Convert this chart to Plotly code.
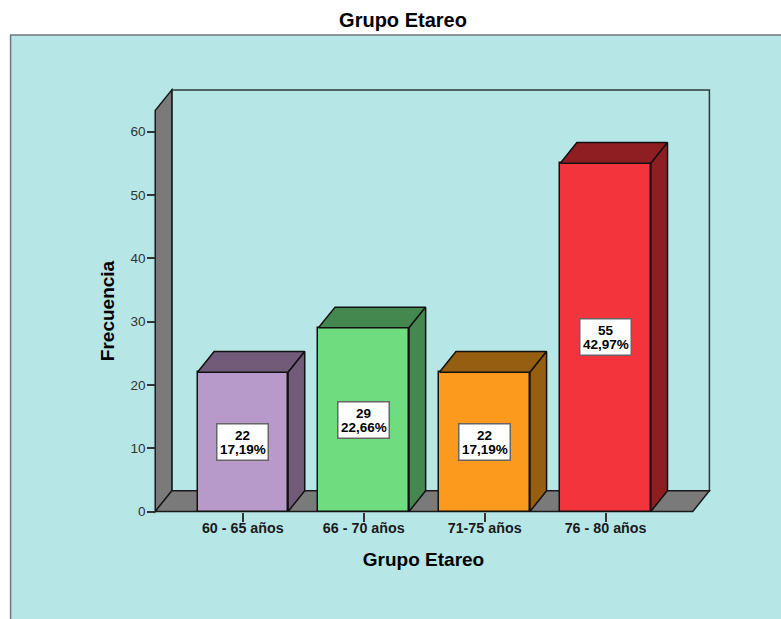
import plotly.graph_objects as go

categories = ["60 - 65 años", "66 - 70 años", "71-75 años", "76 - 80 años"]
values = [22, 29, 22, 55]
percents = ["17,19%", "22,66%", "17,19%", "42,97%"]
front_colors = ["#B89ACA", "#6FDC80", "#FB9A1C", "#F4343C"]
depth_colors = ["#715B78", "#44874F", "#965E10", "#8F1E22"]
y_ticks = [0, 10, 20, 30, 40, 50, 60]

W, H = 781, 619
L, R, T, B = 136.3, 710.7, 86, 536
X0_PX, X_UNIT = 243.0, 120.8
Y0_PX, Y_UNIT = 511.5, 6.3333
FONT = "Liberation Sans"
INK = "#1a1a1a"
PANEL = "#B6E6E6"
WALL = "#7A7A7A"

xr = [(L - X0_PX) / X_UNIT, (R - X0_PX) / X_UNIT]
yr = [(Y0_PX - B) / Y_UNIT, (Y0_PX - T) / Y_UNIT]
DX, DY = 16.6 / X_UNIT, 20.7 / Y_UNIT
BAR_W = 90.5 / X_UNIT
x_left, x_right = (155.5 - X0_PX) / X_UNIT, (692.5 - X0_PX) / X_UNIT
y_top = 63.3


def path(pts):
    return "M " + " L ".join(f"{a},{b}" for a, b in pts) + " Z"


fig = go.Figure()
xs = list(range(len(categories)))

# front faces
fig.add_trace(go.Bar(
    x=xs, y=values, width=BAR_W, marker=dict(color=front_colors, line=dict(color="#111", width=1.5)),
    hoverinfo="skip", showlegend=False,
))

# depth faces
for x, v, c in zip(xs, values, depth_colors):
    a, b = x - BAR_W / 2, x + BAR_W / 2
    top = [a, b, b + DX, a + DX, a]
    top_y = [v, v, v + DY, v + DY, v]
    side = [b, b + DX, b + DX, b, b]
    side_y = [0, DY, v + DY, v, 0]
    for px, py in ((top, top_y), (side, side_y)):
        fig.add_trace(go.Scatter(
            x=px, y=py, mode="lines", fill="toself", fillcolor=c,
            line=dict(color="#111", width=1.5), hoverinfo="skip", showlegend=False,
        ))

shapes = [
    # panel behind everything
    dict(type="rect", xref="paper", yref="paper", layer="below",
         x0=(11 - L) / (R - L), x1=(W + 10 - L) / (R - L),
         y0=(B - (H + 10)) / (B - T), y1=(B - 35) / (B - T),
         fillcolor=PANEL, line=dict(color="#6E7878", width=1.5)),
    # back wall
    dict(type="path", xref="x", yref="y", layer="below",
         path=path([(x_left + DX, DY), (x_right + DX, DY), (x_right + DX, y_top + DY), (x_left + DX, y_top + DY)]),
         fillcolor=PANEL, line=dict(color="#2c3a3a", width=1.5)),
    # left wall
    dict(type="path", xref="x", yref="y", layer="below",
         path=path([(x_left, 0), (x_left, y_top), (x_left + DX, y_top + DY), (x_left + DX, DY)]),
         fillcolor=WALL, line=dict(color="#1a1a1a", width=1.5)),
    # floor
    dict(type="path", xref="x", yref="y", layer="below",
         path=path([(x_left, 0), (x_right, 0), (x_right + DX, DY), (x_left + DX, DY)]),
         fillcolor=WALL, line=dict(color="#1a1a1a", width=1.5)),
]

label_font = dict(family=FONT, size=13.5, color="#000", weight="bold")
annotations = []
for x, v, p in zip(xs, values, percents):
    # white box
    annotations.append(dict(x=x, y=v / 2, xref="x", yref="y", text=" ", showarrow=False,
                            bgcolor="white", bordercolor="#666666", borderwidth=1.5, borderpad=0,
                            width=50, height=35))
    # two tightly spaced text lines
    annotations.append(dict(x=x, y=v / 2, xref="x", yref="y", text=str(v), showarrow=False,
                            font=label_font, yshift=6.5))
    annotations.append(dict(x=x, y=v / 2, xref="x", yref="y", text=p, showarrow=False,
                            font=label_font, yshift=-7.5))

fig.update_layout(
    width=W, height=H, autosize=False,
    margin=dict(l=L, r=W - R, t=T, b=H - B, pad=0),
    paper_bgcolor="white", plot_bgcolor="rgba(0,0,0,0)",
    title=dict(text="Grupo Etareo", xref="container", yref="container",
               x=403 / W, y=1 - 20 / H, xanchor="center", yanchor="middle",
               font=dict(family=FONT, size=20, color="#000", weight="bold")),
    shapes=shapes, annotations=annotations, showlegend=False, bargap=0,
    xaxis=dict(
        range=xr, domain=[0, 1], tickmode="array", tickvals=xs, ticktext=categories,
        anchor="free", position=(B - Y0_PX) / (B - T),
        ticks="outside", ticklen=9, tickwidth=1.5, tickcolor="#333",
        showline=False, showgrid=False, zeroline=False, ticklabelstandoff=-6,
        tickfont=dict(family=FONT, size=14.3, color=INK, weight="bold"),
        title=dict(text="Grupo Etareo", standoff=18,
                   font=dict(family=FONT, size=19, color="#000", weight="bold")),
    ),
    yaxis=dict(
        range=yr, domain=[0, 1], tickmode="array", tickvals=y_ticks,
        anchor="free", position=(155.5 - L) / (R - L),
        ticks="outside", ticklen=8, tickwidth=1.5, tickcolor="#333",
        showline=False, showgrid=False, zeroline=False, ticklabelstandoff=-1,
        tickfont=dict(family=FONT, size=13.5, color="#333"),
        title=dict(text="Frecuencia", standoff=9,
                   font=dict(family=FONT, size=19, color="#000", weight="bold")),
    ),
)

fig.write_html("out.html", config=dict(displayModeBar=False),
               post_script="document.body.style.margin='0';document.body.style.overflow='hidden';")
